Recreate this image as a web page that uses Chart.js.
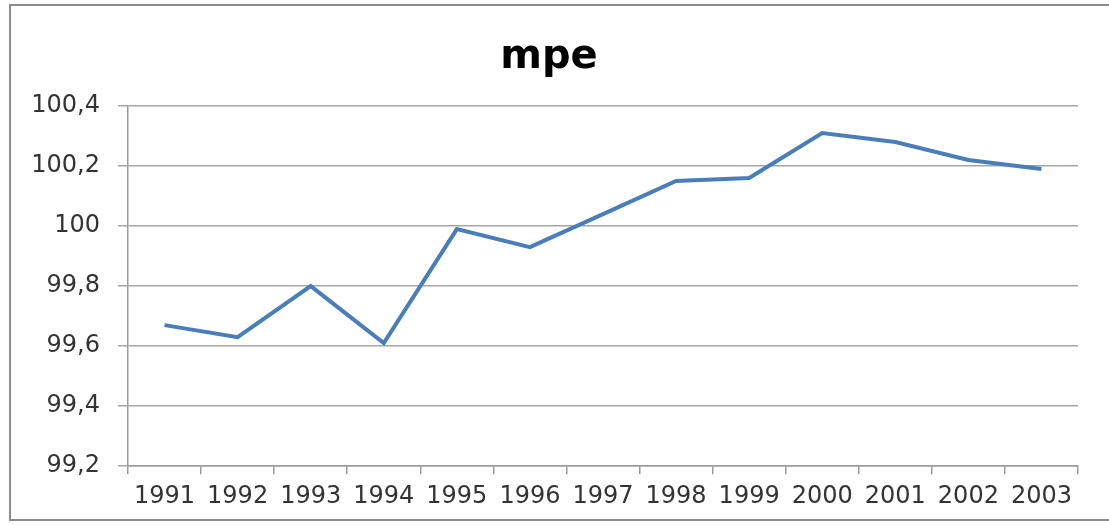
<!DOCTYPE html>
<html>
<head>
<meta charset="utf-8">
<script src="https://cdn.jsdelivr.net/npm/chart.js@4/dist/chart.umd.min.js"></script>
<style>
  html, body { margin: 0; padding: 0; background: #fff; }
  #frame {
    position: absolute; left: 9px; top: 4px; width: 1110px; height: 517px;
    border: 2px solid #8c8c8c; border-right: none; box-sizing: border-box;
  }
  #wrap { position: absolute; left: 0; top: 0; width: 1109px; height: 525px; }
</style>
</head>
<body>
<div id="frame"></div>
<div id="wrap"><canvas id="graph" width="1109" height="525"></canvas></div>
<script>
// years on the x axis
const years = ['1991', '1992', '1993', '1994', '1995', '1996', '1997',
               '1998', '1999', '2000', '2001', '2002', '2003'];
// mpe values
const mpe = [99.67, 99.63, 99.80, 99.61, 99.99, 99.93, 100.04,
             100.15, 100.16, 100.31, 100.28, 100.22, 100.19];
// y axis range and step
const yMin = 99.2;
const yMax = 100.4;
const yStep = 0.2;

const tickFont = { family: 'DejaVu Sans', size: 24 };

new Chart(document.getElementById('graph'), {
    type: 'line',
    data: {
        labels: years,
        datasets: [{
            label: 'mpe',
            data: mpe,
            borderColor: '#4a7ebb',
            borderWidth: 4,
            pointRadius: 0,
            tension: 0,
            fill: false
        }]
    },
    options: {
        responsive: false,
        animation: false,
        layout: { padding: { left: 20, right: 31, top: 0, bottom: 6 } },
        plugins: {
            legend: { display: false },
            tooltip: { enabled: false },
            title: {
                display: true,
                text: 'mpe',
                color: '#000',
                font: { family: 'DejaVu Sans', size: 40, weight: 'bold' },
                padding: { top: 34, bottom: 24 }
            }
        },
        scales: {
            y: {
                min: yMin,
                max: yMax,
                ticks: {
                    stepSize: yStep,
                    color: '#333',
                    font: tickFont,
                    padding: 18,
                    callback: v => {
                        const s = (Math.round(v * 10) / 10).toString();
                        return s.replace('.', ',');
                    }
                },
                grid: { color: '#a6a6a6', lineWidth: 1.5, tickLength: 10 },
                border: { color: '#9a9a9a', width: 1.5 },
                afterFit: s => { s.width = 108; }
            },
            x: {
                offset: true,
                ticks: { color: '#333', font: tickFont, maxRotation: 0, autoSkip: false, padding: 8 },
                grid: { offset: true, drawOnChartArea: false, drawTicks: true, tickLength: 8, color: '#9a9a9a', lineWidth: 1.5 },
                border: { color: '#9a9a9a', width: 1.5 }
            }
        }
    }
});
</script>
</body>
</html>
